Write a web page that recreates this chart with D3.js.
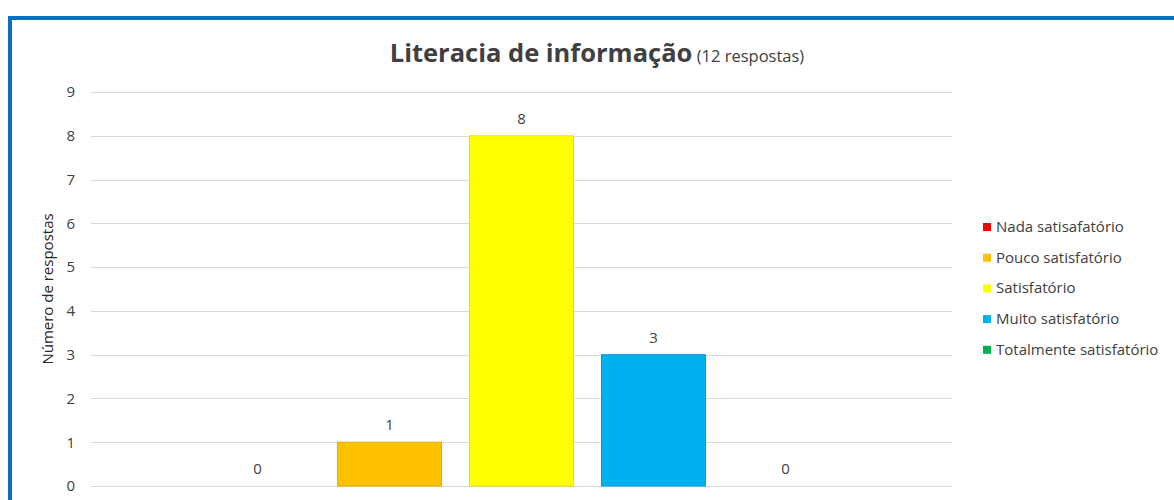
<!DOCTYPE html>
<html>
<head>
<meta charset="utf-8">
<script src="https://cdn.jsdelivr.net/npm/d3@7"></script>
<style>
  body { margin: 0; background: #fff; }
  svg text { font-family: "Open Sans", "Noto Sans", sans-serif; }
</style>
</head>
<body>
<svg id="chart" width="1174" height="500"></svg>
<script>
// chart data
var titleMain = "Literacia de informação";
var titleSub = "(12 respostas)";
var yLabel = "Número de respostas";
var series = ["Nada satisafatório", "Pouco satisfatório", "Satisfatório", "Muito satisfatório", "Totalmente satisfatório"];
var values = [0, 1, 8, 3, 0];
var colors = ["#FF0000", "#FFC000", "#FFFF00", "#00B0F0", "#00B050"];
var yTicks = [0, 1, 2, 3, 4, 5, 6, 7, 8, 9];

var svg = d3.select("#chart");

// frame
svg.append("path")
  .attr("d", "M10,520 L10,18 L1190,18")
  .attr("fill", "none")
  .attr("stroke", "#0A70C2")
  .attr("stroke-width", 4);

var plot = { left: 91, right: 952, top: 92, bottom: 486 };

var y = d3.scaleLinear().domain([0, 9]).range([plot.bottom, plot.top]);
var x = d3.scaleBand()
  .domain(series)
  .range([plot.left, plot.right])
  .paddingInner(0.212)
  .paddingOuter(0.867);

// gridlines
svg.append("g")
  .selectAll("line")
  .data(yTicks)
  .join("line")
  .attr("x1", plot.left)
  .attr("x2", plot.right)
  .attr("y1", function(d) { return Math.round(y(d)) + 0.5; })
  .attr("y2", function(d) { return Math.round(y(d)) + 0.5; })
  .attr("stroke", "#D9D9D9")
  .attr("stroke-width", 1);

// y axis labels
var yAxis = d3.axisLeft(y).tickValues(yTicks).tickSize(0).tickPadding(16);
var gy = svg.append("g")
  .attr("transform", "translate(" + plot.left + ",0)")
  .call(yAxis);
gy.select(".domain").remove();
gy.selectAll("text")
  .attr("fill", "#404040")
  .style("font-size", "15px");

// bars
svg.append("g")
  .selectAll("rect")
  .data(values)
  .join("rect")
  .attr("x", function(d, i) { return x(series[i]); })
  .attr("y", function(d) { return y(d); })
  .attr("width", x.bandwidth())
  .attr("height", function(d) { return y(0) - y(d); })
  .attr("fill", function(d, i) { return colors[i]; })
  .attr("stroke", function(d, i) { return d3.color(colors[i]).darker(0.3); })
  .attr("stroke-width", function(d) { return d > 0 ? 1 : 0; });

// value labels
svg.append("g")
  .selectAll("text")
  .data(values)
  .join("text")
  .attr("x", function(d, i) { return x(series[i]) + x.bandwidth() / 2; })
  .attr("y", function(d) { return y(d) - 12; })
  .attr("text-anchor", "middle")
  .attr("fill", "#404040")
  .style("font-size", "15px")
  .text(function(d) { return d; });

// y title
svg.append("text")
  .attr("transform", "translate(53," + ((plot.top + plot.bottom) / 2) + ") rotate(-90)")
  .attr("text-anchor", "middle")
  .attr("fill", "#262626")
  .style("font-size", "15px")
  .text(yLabel);

// title
var t = svg.append("text")
  .attr("x", 597)
  .attr("y", 62)
  .attr("text-anchor", "middle")
  .attr("fill", "#404040");
t.append("tspan")
  .style("font-size", "25.5px")
  .style("font-weight", "bold")
  .text(titleMain);
t.append("tspan")
  .style("font-size", "16.5px")
  .text(" " + titleSub);

// legend
var legend = svg.append("g")
  .selectAll("g")
  .data(series)
  .join("g")
  .attr("transform", function(d, i) { return "translate(983," + (227 + i * 30.7) + ")"; });
legend.append("rect")
  .attr("x", 0)
  .attr("y", -4)
  .attr("width", 8)
  .attr("height", 8)
  .attr("fill", function(d, i) { return colors[i]; });
legend.append("text")
  .attr("x", 13)
  .attr("y", 5)
  .attr("fill", "#404040")
  .style("font-size", "15px")
  .text(function(d) { return d; });
</script>
</body>
</html>
